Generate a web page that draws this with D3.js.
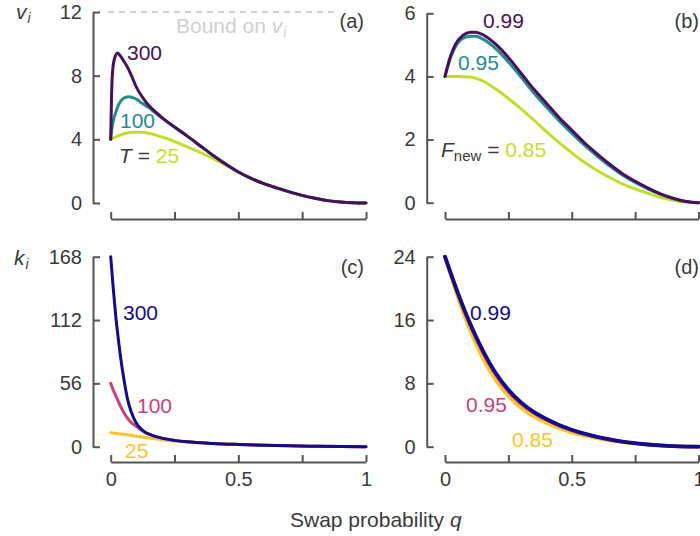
<!DOCTYPE html>
<html><head><meta charset="utf-8">
<script src="https://cdn.jsdelivr.net/npm/d3@7"></script>
<style>
body{margin:0;background:#fff;}
text{font-family:"Liberation Sans",Arial,Helvetica,sans-serif;}
</style></head>
<body><svg id="c" width="700" height="536"></svg>
<script>
// ---------- data ----------
const xTicks = [0, 0.25, 0.5, 0.75, 1];
const xTickLabels = ["0", "", "0.5", "", "1"];
const vTicksA = [0, 4, 8, 12];
const vTicksB = [0, 2, 4, 6];
const kTicksC = [0, 56, 112, 168];
const kTicksD = [0, 8, 16, 24];

// Panel (a): v_i vs q for T = 300, 100, 25
const qA300 = [0, 0.003, 0.007, 0.013, 0.02, 0.027, 0.035, 0.05, 0.065, 0.08, 0.1, 0.12, 0.14, 0.17, 0.2, 0.25, 0.3, 0.35, 0.4, 0.45, 0.5, 0.55, 0.6, 0.65, 0.7, 0.75, 0.8, 0.85, 0.9, 0.95, 1];
const vA300 = [4.0, 6.5, 8.2, 8.95, 9.3, 9.42, 9.3, 8.95, 8.55, 8.05, 7.3, 6.75, 6.3, 5.8, 5.38, 4.78, 4.2, 3.6, 3.0, 2.45, 1.95, 1.55, 1.22, 0.95, 0.7, 0.48, 0.3, 0.15, 0.06, 0.015, 0];
const qA100 = [0, 0.005, 0.01, 0.02, 0.03, 0.04, 0.055, 0.072, 0.09, 0.105, 0.12, 0.14, 0.16, 0.18, 0.2, 0.25, 0.3, 0.35, 0.4, 0.45, 0.5, 0.55, 0.6, 0.65, 0.7, 0.75, 0.8, 0.85, 0.9, 0.95, 1];
const vA100 = [4.0, 4.7, 5.15, 5.7, 6.15, 6.42, 6.62, 6.68, 6.6, 6.48, 6.3, 6.08, 5.86, 5.6, 5.35, 4.77, 4.2, 3.6, 3.0, 2.45, 1.95, 1.55, 1.22, 0.95, 0.7, 0.48, 0.3, 0.15, 0.06, 0.015, 0];
const qA25 = [0, 0.03, 0.06, 0.09, 0.12, 0.15, 0.18, 0.22, 0.26, 0.3, 0.35, 0.4, 0.45, 0.5, 0.55, 0.6, 0.65, 0.7, 0.75, 0.8, 0.85, 0.9, 0.95, 1];
const vA25 = [4.0, 4.22, 4.38, 4.45, 4.45, 4.38, 4.25, 4.05, 3.8, 3.52, 3.18, 2.8, 2.38, 1.93, 1.54, 1.21, 0.94, 0.7, 0.48, 0.3, 0.15, 0.06, 0.015, 0];

// Panel (b): v_i vs q for F_new = 0.99, 0.95, 0.85
const qB = [0, 0.02, 0.04, 0.07, 0.1, 0.12, 0.15, 0.2, 0.25, 0.3, 0.35, 0.4, 0.45, 0.5, 0.55, 0.6, 0.65, 0.7, 0.75, 0.8, 0.85, 0.9, 0.95, 1];
const vB99 = [4.0, 4.6, 5.0, 5.3, 5.4, 5.4, 5.32, 5.02, 4.6, 4.1, 3.6, 3.15, 2.7, 2.3, 1.9, 1.55, 1.22, 0.92, 0.68, 0.47, 0.28, 0.14, 0.04, 0];
const vB95 = [4.0, 4.55, 4.92, 5.2, 5.27, 5.27, 5.18, 4.88, 4.46, 3.98, 3.48, 3.03, 2.6, 2.2, 1.82, 1.48, 1.16, 0.88, 0.64, 0.44, 0.27, 0.13, 0.04, 0];
const qB85 = [0, 0.05, 0.1, 0.15, 0.2, 0.25, 0.3, 0.35, 0.4, 0.45, 0.5, 0.55, 0.6, 0.65, 0.7, 0.75, 0.8, 0.85, 0.9, 0.95, 1];
const vB85 = [4.0, 4.0, 3.98, 3.85, 3.6, 3.3, 2.97, 2.62, 2.25, 1.9, 1.58, 1.28, 1.02, 0.8, 0.6, 0.44, 0.3, 0.17, 0.08, 0.02, 0];

// Panel (c): k_i vs q for T = 300, 100, 25
const qC300 = [0, 0.01, 0.02, 0.03, 0.04, 0.05, 0.065, 0.08, 0.1, 0.13, 0.16, 0.2, 0.25, 0.3, 0.4, 0.5, 0.6, 0.7, 0.8, 0.9, 1];
const kC300 = [168, 140, 115, 95, 77, 62, 43, 31, 21, 13.5, 10.3, 7.6, 5.6, 4.3, 2.9, 2.0, 1.3, 0.8, 0.45, 0.15, 0];
const qC100 = [0, 0.01, 0.02, 0.04, 0.06, 0.08, 0.1, 0.13, 0.16, 0.2, 0.25, 0.3, 0.4, 0.5, 0.6, 0.7, 0.8, 0.9, 1];
const kC100 = [56, 50, 45, 35, 27, 21.5, 18, 13.2, 10.2, 7.6, 5.6, 4.3, 2.9, 2.0, 1.3, 0.8, 0.45, 0.15, 0];
const qC25 = [0, 0.05, 0.1, 0.15, 0.2, 0.25, 0.3, 0.4, 0.5, 0.6, 0.7, 0.8, 0.9, 1];
const kC25 = [12.4, 11.0, 9.3, 7.6, 6.2, 5.0, 4.2, 2.9, 2.0, 1.3, 0.8, 0.45, 0.15, 0];

// Panel (d): k_i vs q for F_new = 0.99, 0.95, 0.85
const qD = [0, 0.05, 0.1, 0.15, 0.2, 0.25, 0.3, 0.35, 0.4, 0.45, 0.5, 0.55, 0.6, 0.65, 0.7, 0.75, 0.8, 0.85, 0.9, 0.95, 1];
const kD99 = [24, 19.5, 15.5, 12.1, 9.3, 7.2, 5.6, 4.4, 3.5, 2.75, 2.15, 1.65, 1.25, 0.92, 0.65, 0.44, 0.28, 0.16, 0.07, 0.02, 0];
const kD95 = [24, 19.35, 15.3, 11.9, 9.1, 7.0, 5.45, 4.28, 3.4, 2.67, 2.08, 1.6, 1.21, 0.89, 0.63, 0.42, 0.27, 0.15, 0.07, 0.02, 0];
const kD85 = [24, 18.9, 14.6, 11.1, 8.4, 6.4, 4.9, 3.8, 3.0, 2.35, 1.8, 1.4, 1.05, 0.77, 0.55, 0.37, 0.23, 0.13, 0.06, 0.02, 0];

// ---------- drawing ----------
const svg = d3.select("#c");
const AX = "#555", TXT = "#3a3a3a";
const C1 = "#470f5c", C2 = "#268a8f", C3 = "#bfe02a";
const P1 = "#140b8a", P2 = "#c8437a", P3 = "#fcc428";
const FS = 21, FT = 20;

function panel(cfg){
  const x = d3.scaleLinear().domain([0,1]).range(cfg.xr);
  const y = d3.scaleLinear().domain([0, cfg.ymax]).range(cfg.yr);
  const g = svg.append("g");
  const ya = g.append("g").attr("transform", `translate(${cfg.yaxX},0)`)
    .call(d3.axisLeft(y).tickValues(cfg.yticks).tickSize(-7).tickSizeOuter(0).tickPadding(11).tickFormat(d3.format("d")));
  const xa = g.append("g").attr("transform", `translate(0,${cfg.xaxY})`)
    .call(d3.axisBottom(x).tickValues(xTicks).tickSize(-7).tickSizeOuter(0).tickPadding(10)
      .tickFormat((d,i)=> cfg.xlabels ? xTickLabels[i] : ""));
  [ya, xa].forEach(a => {
    a.select(".domain").attr("stroke", AX).attr("stroke-width", 2);
    a.selectAll(".tick line").attr("stroke", AX).attr("stroke-width", 2);
    a.selectAll(".tick text").attr("fill", TXT).style("font-size", FT+"px")
      .style("font-family", '"Liberation Sans",Arial,sans-serif');
  });
  const line = d3.line().x(d=>x(d[0])).y(d=>y(d[1])).curve(d3.curveMonotoneX);
  cfg.series.forEach(s => {
    g.append("path").datum(d3.zip(s.q, s.v))
      .attr("d", line).attr("fill","none").attr("stroke", s.color)
      .attr("stroke-width", s.w || 3).attr("stroke-linejoin","round").attr("stroke-linecap","round");
  });
  g.append("text").attr("x", cfg.letterX).attr("y", cfg.letterY).attr("fill", TXT)
    .style("font-size", "20px").attr("text-anchor","end").text(cfg.letter);
  return {x, y, g};
}

// (a)
const pa = panel({xr:[110.7,366], yr:[203,12], ymax:12, yaxX:93, xaxY:219, yticks:vTicksA, xlabels:false,
  letter:"(a)", letterX:364, letterY:28,
  series:[{q:qA25,v:vA25,color:C3},{q:qA100,v:vA100,color:C2},{q:qA300,v:vA300,color:C1}]});
svg.insert("line", ":first-child").attr("x1",108).attr("x2",338).attr("y1",pa.y(12)).attr("y2",pa.y(12))
  .attr("stroke","#cfcfcf").attr("stroke-width",1.8).attr("stroke-dasharray","6,5");
const bt = svg.append("text").attr("x",176).attr("y",33).attr("fill","#cfcfcf").style("font-size",FS+"px");
bt.append("tspan").text("Bound on ");
bt.append("tspan").style("font-style","italic").text("v");
bt.append("tspan").style("font-style","italic").style("font-size","14px").attr("dy",4).attr("dx",1).text("i");

function lbl(x,y,t,color){ svg.append("text").attr("x",x).attr("y",y).attr("fill",color).style("font-size",FS+"px").text(t); }
lbl(127,60,"300",C1);
lbl(120,128,"100",C2);
const ta = svg.append("text").attr("x",119).attr("y",163).style("font-size",FS+"px").attr("fill",TXT);
ta.append("tspan").style("font-style","italic").text("T");
ta.append("tspan").text(" = ");
ta.append("tspan").attr("fill",C3).text("25");

const yl1 = svg.append("text").attr("x",16).attr("y",19).attr("fill",TXT).style("font-size",FS+"px").style("font-style","italic");
yl1.append("tspan").text("v");
yl1.append("tspan").style("font-size","14px").attr("dy",4).attr("dx",1).text("i");

// (b)
panel({xr:[445,698.5], yr:[202.7,13.3], ymax:6, yaxX:426.7, xaxY:219, yticks:vTicksB, xlabels:false,
  letter:"(b)", letterX:699, letterY:28,
  series:[{q:qB85,v:vB85,color:C3},{q:qB,v:vB95,color:C2},{q:qB,v:vB99,color:C1}]});
lbl(483,28,"0.99",C1);
lbl(458,70,"0.95",C2);
const tb = svg.append("text").attr("x",441).attr("y",157).style("font-size",FS+"px").attr("fill",TXT);
tb.append("tspan").style("font-style","italic").text("F");
tb.append("tspan").style("font-size","15px").attr("dy",4).text("new");
tb.append("tspan").attr("dy",-4).text(" = ");
tb.append("tspan").attr("fill",C3).text("0.85");

// (c)
panel({xr:[110.7,366], yr:[446.7,256.7], ymax:168, yaxX:93, xaxY:462, yticks:kTicksC, xlabels:true,
  letter:"(c)", letterX:364, letterY:274,
  series:[{q:qC25,v:kC25,color:P3},{q:qC100,v:kC100,color:P2},{q:qC300,v:kC300,color:P1}]});
lbl(123,320,"300",P1);
lbl(137,413,"100",P2);
lbl(125,458,"25",P3);
const yl2 = svg.append("text").attr("x",14).attr("y",265).attr("fill",TXT).style("font-size",FS+"px").style("font-style","italic");
yl2.append("tspan").text("k");
yl2.append("tspan").style("font-size","14px").attr("dy",4).attr("dx",1).text("i");

// (d)
panel({xr:[445,698.5], yr:[446.7,256.7], ymax:24, yaxX:426.7, xaxY:462, yticks:kTicksD, xlabels:true,
  letter:"(d)", letterX:699, letterY:274,
  series:[{q:qD,v:kD85,color:P3,w:3.5},{q:qD,v:kD95,color:P2,w:3.5},{q:qD,v:kD99,color:P1,w:3.8}]});
lbl(470,320,"0.99",P1);
lbl(466,412,"0.95",P2);
lbl(512,447,"0.85",P3);

const xt = svg.append("text").attr("x",290).attr("y",527).attr("fill",TXT).style("font-size",FS+"px");
xt.append("tspan").text("Swap probability ");
xt.append("tspan").style("font-style","italic").text("q");
</script></body></html>
